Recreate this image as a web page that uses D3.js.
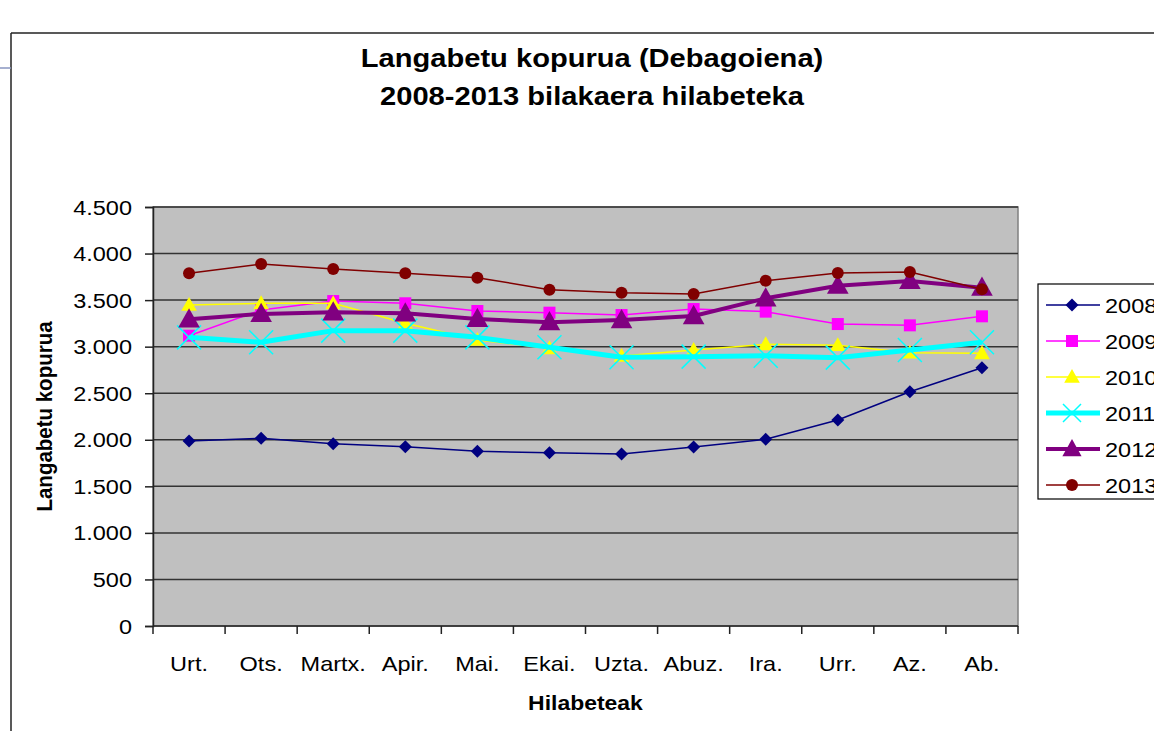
<!DOCTYPE html>
<html>
<head>
<meta charset="utf-8">
<script src="https://cdn.jsdelivr.net/npm/d3@7"></script>
<style>
  body { margin: 0; background: #fff; }
  text { font-family: "Liberation Sans", Arial, sans-serif; }
</style>
</head>
<body>
<svg id="chart" width="1154" height="731"></svg>
<script>
// Months (x categories)
const months = ["Urt.", "Ots.", "Martx.", "Apir.", "Mai.", "Ekai.", "Uzta.", "Abuz.", "Ira.", "Urr.", "Az.", "Ab."];
const years = ["2008", "2009", "2010", "2011", "2012", "2013"];

// Unemployed per month
const v2008 = [1987, 2016, 1958, 1926, 1876, 1861, 1847, 1922, 2005, 2212, 2516, 2774];
const v2009 = [3118, 3394, 3490, 3466, 3383, 3365, 3340, 3404, 3376, 3243, 3229, 3326];
const v2010 = [3448, 3466, 3466, 3251, 3072, 2982, 2900, 2964, 3025, 3015, 2935, 2929];
const v2011 = [3100, 3047, 3172, 3172, 3100, 2993, 2886, 2893, 2903, 2882, 2964, 3047];
const v2012 = [3294, 3351, 3369, 3358, 3297, 3262, 3286, 3329, 3519, 3655, 3705, 3633];
const v2013 = [3788, 3888, 3834, 3788, 3741, 3612, 3580, 3566, 3709, 3791, 3802, 3616];

const yTicks = [0, 500, 1000, 1500, 2000, 2500, 3000, 3500, 4000, 4500];

const seriesValues = [v2008, v2009, v2010, v2011, v2012, v2013];

// Look of each series
const styles = [
  { color: "#000080", width: 1.5, marker: "diamond", size: 11 },
  { color: "#FF00FF", width: 1.5, marker: "square", size: 12 },
  { color: "#FFFF00", width: 1.5, marker: "triangle", size: 13 },
  { color: "#00FFFF", width: 5, marker: "x", size: 12 },
  { color: "#800080", width: 4, marker: "triangle", size: 18 },
  { color: "#800000", width: 1.5, marker: "circle", size: 6 },
];

const svg = d3.select("#chart");

const plot = { left: 153, right: 1018, top: 207, bottom: 626 };
const stretch = 1.12; // the picture's text is a bit wide

const x = d3.scaleBand().domain(months).range([plot.left, plot.right]).padding(0);
const y = d3.scaleLinear().domain([0, 4500]).range([plot.bottom, plot.top]);
const cx = (m) => x(m) + x.bandwidth() / 2;

const locale = d3.formatLocale({ decimal: ",", thousands: ".", grouping: [3], currency: ["", " €"] });
const fmt = locale.format(",");

// text that is widened a little, like in the picture
function wideText(parent, px, py, str, size, anchor, bold) {
  return parent.append("text")
    .attr("transform", `translate(${px},${py}) scale(${stretch},1)`)
    .attr("text-anchor", anchor)
    .style("font-size", size + "px")
    .style("font-weight", bold ? "bold" : "normal")
    .text(str);
}

// Outer chart border
svg.append("line")
  .attr("x1", 11).attr("x2", 1154).attr("y1", 33).attr("y2", 33)
  .attr("stroke", "#222").attr("stroke-width", 1.5);
svg.append("line")
  .attr("x1", 11).attr("x2", 11).attr("y1", 33).attr("y2", 731)
  .attr("stroke", "#222").attr("stroke-width", 1.5);
svg.append("line")
  .attr("x1", 0).attr("x2", 11).attr("y1", 68).attr("y2", 68)
  .attr("stroke", "#8896c0").attr("stroke-width", 1.5);

// Title
wideText(svg, 592, 67, "Langabetu kopurua (Debagoiena)", 26, "middle", true);
wideText(svg, 592, 105, "2008-2013 bilakaera hilabeteka", 26, "middle", true);

// Plot background
svg.append("rect")
  .attr("x", plot.left).attr("y", plot.top)
  .attr("width", plot.right - plot.left).attr("height", plot.bottom - plot.top)
  .attr("fill", "#C0C0C0")
  .attr("stroke", "#808080").attr("stroke-width", 1.5);

// Gridlines
svg.append("g")
  .selectAll("line")
  .data(yTicks.filter((d) => d > 0))
  .join("line")
  .attr("x1", plot.left).attr("x2", plot.right)
  .attr("y1", (d) => y(d)).attr("y2", (d) => y(d))
  .attr("stroke", "#333").attr("stroke-width", 1.5);

// Y axis (line and ticks from d3, labels widened by hand)
const yAxis = svg.append("g")
  .attr("transform", `translate(${plot.left},0)`)
  .call(d3.axisLeft(y).tickValues(yTicks).tickSize(8).tickFormat(""));
yAxis.select(".domain").attr("stroke", "#222").attr("stroke-width", 1.5);
yAxis.selectAll(".tick line").attr("stroke", "#222").attr("stroke-width", 1.5);

const yLabels = svg.append("g");
yTicks.forEach((t) => {
  wideText(yLabels, 132, y(t) + 7.5, fmt(t), 21, "end", false);
});

// X axis line and boundary ticks
svg.append("line")
  .attr("x1", plot.left).attr("x2", plot.right)
  .attr("y1", plot.bottom).attr("y2", plot.bottom)
  .attr("stroke", "#222").attr("stroke-width", 1.5);
const bounds = months.map((m) => x(m)).concat([x.range()[1]]);
svg.append("g")
  .selectAll("line")
  .data(bounds)
  .join("line")
  .attr("x1", (d) => d).attr("x2", (d) => d)
  .attr("y1", plot.bottom).attr("y2", plot.bottom + 8)
  .attr("stroke", "#222").attr("stroke-width", 1.5);

const xLabels = svg.append("g");
months.forEach((m) => {
  wideText(xLabels, cx(m), 671, m, 21, "middle", false);
});

// Axis titles
wideText(svg, (plot.left + plot.right) / 2, 710, "Hilabeteak", 20.5, "middle", true);

svg.append("text")
  .attr("transform", `translate(52, ${(plot.top + plot.bottom) / 2}) rotate(-90) scale(1, ${stretch})`)
  .attr("text-anchor", "middle")
  .style("font-size", "20.5px")
  .style("font-weight", "bold")
  .text("Langabetu kopurua");

// Marker drawing
function drawMarker(g, st) {
  const s = st.size;
  if (st.marker === "diamond") {
    g.append("path").attr("d", `M0,${-s / 2 - 1}L${s / 2 + 1},0L0,${s / 2 + 1}L${-s / 2 - 1},0Z`).attr("fill", st.color);
  } else if (st.marker === "square") {
    g.append("rect").attr("x", -s / 2).attr("y", -s / 2).attr("width", s).attr("height", s).attr("fill", st.color);
  } else if (st.marker === "triangle") {
    g.append("path").attr("d", `M0,${-s * 0.62}L${s * 0.6},${s * 0.45}L${-s * 0.6},${s * 0.45}Z`).attr("fill", st.color);
  } else if (st.marker === "x") {
    g.append("path").attr("d", `M${-s},${-s}L${s},${s}M${-s},${s}L${s},${-s}`)
      .attr("stroke", st.color).attr("stroke-width", 1.5).attr("fill", "none");
  } else if (st.marker === "circle") {
    g.append("circle").attr("r", s).attr("fill", st.color);
  }
}

const line = d3.line()
  .x((d, i) => cx(months[i]))
  .y((d) => y(d));

seriesValues.forEach((vals, k) => {
  const st = styles[k];
  const g = svg.append("g").attr("class", "series");
  g.append("path")
    .datum(vals)
    .attr("d", line)
    .attr("fill", "none")
    .attr("stroke", st.color)
    .attr("stroke-width", st.width)
    .attr("stroke-linejoin", "round");
  vals.forEach((v, i) => {
    drawMarker(g.append("g").attr("transform", `translate(${cx(months[i])},${y(v)})`), st);
  });
});

// Legend
const legend = svg.append("g").attr("transform", "translate(1038,284)");
legend.append("rect")
  .attr("width", 140).attr("height", 215)
  .attr("fill", "#fff").attr("stroke", "#000").attr("stroke-width", 1.2);

years.forEach((yr, k) => {
  const st = styles[k];
  const row = legend.append("g").attr("transform", `translate(0, ${21 + k * 36})`);
  row.append("line")
    .attr("x1", 8).attr("x2", 62)
    .attr("stroke", st.color).attr("stroke-width", st.width);
  const mg = row.append("g").attr("transform", "translate(34,0)");
  drawMarker(mg, Object.assign({}, st, { size: st.marker === "x" ? 9 : st.marker === "circle" ? 6 : st.marker === "triangle" && st.width > 2 ? 16 : st.size }));
  wideText(row, 67, 7.5, yr, 21, "start", false);
});
</script>
</body>
</html>
